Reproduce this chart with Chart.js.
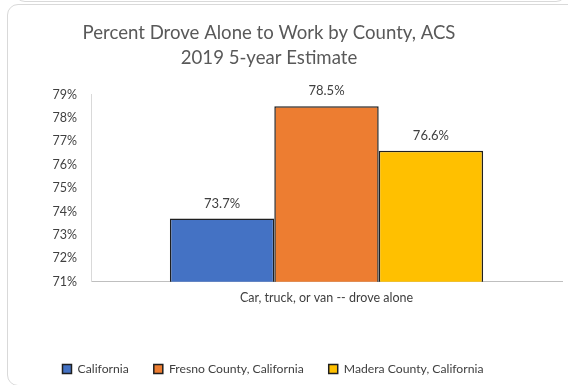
<!DOCTYPE html>
<html>
<head>
<meta charset="utf-8">
<script src="https://cdn.jsdelivr.net/npm/chart.js@4"></script>
<style>
  html, body { margin: 0; padding: 0; background: #fff; }
  body { width: 568px; height: 385px; position: relative; overflow: hidden; }
  .frame { position: absolute; border: 1px solid #d9d9d9; border-radius: 11px; }
  .prev { left: 14px; top: -30px; width: 551px; height: 30px; }
  .box { left: 7px; top: 4px; width: 600px; height: 380px; }
  #wrap { position: absolute; left: 0; top: 0; width: 568px; height: 385px; }
</style>
</head>
<body>
<div class="frame prev"></div>
<div class="frame box"></div>
<div id="wrap"><canvas id="driveChart"></canvas></div>
<script>
const categories = ["Car, truck, or van -- drove alone"];
const seriesNames = ["California", "Fresno County, California", "Madera County, California"];
const california = [73.7];
const fresno = [78.5];
const madera = [76.6];
const yTicks = [71, 72, 73, 74, 75, 76, 77, 78, 79];

const fillColors = ["#4472c4", "#ed7d31", "#ffc000"];
const textGray = "#595959";
const darkGray = "#404040";
const fontFamily = "Lato, 'Open Sans', sans-serif";

// value labels above each bar
const barLabels = {
  id: "barLabels",
  afterDatasetsDraw(chart) {
    const ctx = chart.ctx;
    ctx.save();
    ctx.font = "13px " + fontFamily;
    ctx.fillStyle = darkGray;
    ctx.textAlign = "center";
    ctx.textBaseline = "middle";
    chart.data.datasets.forEach((ds, i) => {
      chart.getDatasetMeta(i).data.forEach((bar, j) => {
        ctx.fillText(ds.data[j].toFixed(1) + "%", bar.x, bar.y - 15);
      });
    });
    ctx.restore();
  },
};

// title and legend sit centred on the frame, not on the full canvas
const boxShift = {
  id: "boxShift",
  afterLayout(chart) {
    chart.titleBlock.left = 0;
    chart.titleBlock.right = 538;
    chart.legend.left = 0;
    chart.legend.right = 546;
  },
};

new Chart(document.getElementById("driveChart"), {
  type: "bar",
  data: {
    labels: categories,
    datasets: [california, fresno, madera].map((vals, i) => ({
      label: seriesNames[i],
      data: vals,
      backgroundColor: fillColors[i],
      borderColor: "#1f1f1f",
      borderWidth: 1.5,
      borderSkipped: "bottom",
      barPercentage: 1.0,
      categoryPercentage: 0.665,
    })),
  },
  options: {
    responsive: true,
    maintainAspectRatio: false,
    animation: false,
    layout: { padding: { left: 0, right: 6, top: 0, bottom: 0 } },
    plugins: {
      title: {
        display: true,
        text: ["Percent Drove Alone to Work by County, ACS", "2019 5-year Estimate"],
        color: textGray,
        font: { family: fontFamily, size: 18.6, weight: "normal", lineHeight: 1.36 },
        padding: { top: 20, bottom: 24 },
      },
      legend: {
        position: "bottom",
        labels: {
          color: darkGray,
          font: { family: fontFamily, size: 12.2 },
          boxWidth: 9,
          boxHeight: 9,
          padding: 25,
          generateLabels(chart) {
            return chart.data.datasets.map((ds, i) => ({
              text: ds.label,
              fillStyle: ds.backgroundColor,
              strokeStyle: "#1f1f1f",
              lineWidth: 1.5,
              datasetIndex: i,
              fontColor: darkGray,
            }));
          },
        },
      },
      tooltip: { enabled: false },
    },
    scales: {
      x: {
        grid: { display: false, drawTicks: false },
        border: { color: "#bfbfbf", width: 1 },
        ticks: { color: darkGray, font: { family: fontFamily, size: 12.5 }, padding: 9 },
        afterFit(scale) { scale.height = 56; },
      },
      y: {
        min: 71,
        max: 79,
        afterBuildTicks(scale) { scale.ticks = yTicks.map(v => ({ value: v })); },
        grid: { display: false, drawTicks: false },
        border: { color: "#d9d9d9", width: 1 },
        ticks: {
          color: darkGray,
          font: { family: fontFamily, size: 12.5 },
          padding: 14,
          callback: v => v + "%",
        },
        afterFit(scale) { scale.width = 91; },
      },
    },
  },
  plugins: [barLabels, boxShift],
});
</script>
</body>
</html>
